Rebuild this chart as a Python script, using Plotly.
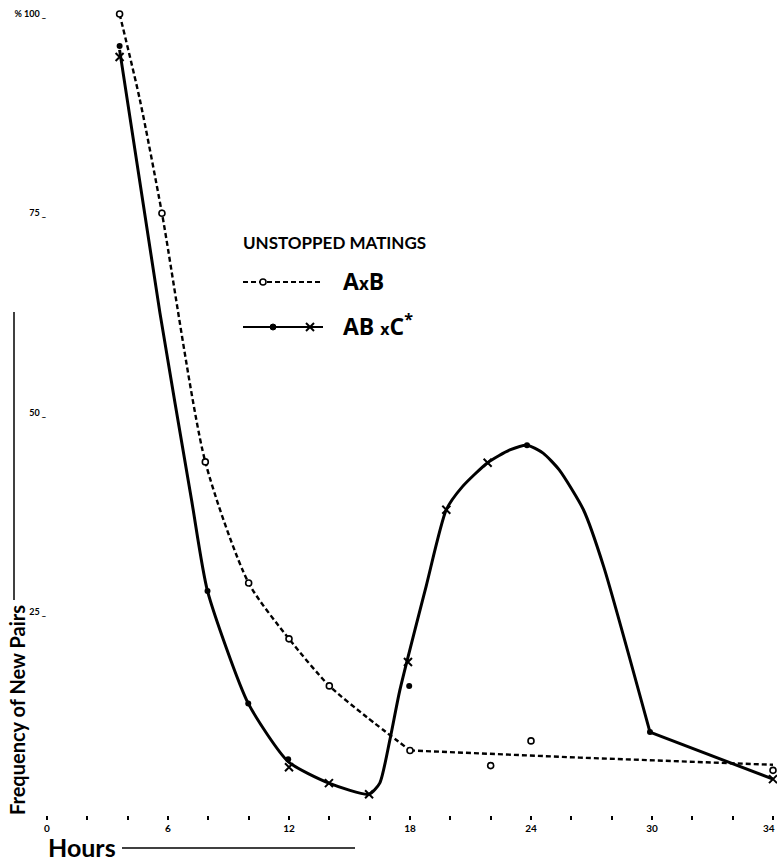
import plotly.graph_objects as go

# ---------------- data ----------------
# A x B : open circles (observations) and the hand-drawn dashed curve
axb_hours = [3.6, 5.7, 7.85, 10, 12, 14, 18, 22, 24, 36]
axb_freq = [100, 75, 43.8, 28.6, 21.6, 15.7, 7.6, 5.7, 8.8, 5.1]
axb_curve_hours = [3.6, 4.6, 5.7, 7.85, 10, 12, 14, 15.85, 18]
axb_curve_freq = [100, 89.3, 75, 43.8, 28.6, 21.6, 15.7, 11.8, 7.6]
axb_tail_hours = [18, 26.4, 36]
axb_tail_freq = [7.6, 6.7, 5.8]

# AB x C* : dots and crosses (observations) and the hand-drawn solid curve
abc_dot_hours = [3.6, 7.96, 9.98, 11.96, 17.96, 23.8, 29.9]
abc_dot_freq = [96.0, 27.6, 13.5, 6.5, 15.7, 45.9, 9.9]
abc_x_hours = [3.6, 12.0, 13.98, 15.97, 17.9, 19.8, 21.85, 36]
abc_x_freq = [94.6, 5.5, 3.5, 2.1, 18.7, 37.8, 43.7, 4.0]
abc_curve_hours = [3.6, 5.6, 7.17, 7.96, 9.98, 11.96, 13.98, 15.97,
                   16.5, 17.0, 17.5, 18.8, 19.8, 20.6, 21.85, 22.95, 23.8,
                   24.6, 25.4, 26.6, 27.6, 29.9]
abc_curve_freq = [95.5, 62.5, 39, 27.6, 13.5, 6.2, 3.5, 2.1,
                  3.5, 8.9, 15.2, 28.2, 37.8, 40.7, 43.7, 45.3, 45.9,
                  44.9, 42.8, 37.8, 30.7, 9.9]
abc_tail_hours = [29.9, 36]
abc_tail_freq = [9.9, 4.0]

x_tick_vals = list(range(0, 37, 2))
x_tick_text = ["0", "", "", "6", "", "", "12", "", "", "18", "", "",
               "24", "", "", "30", "", "", ""]
last_tick_value = 36
last_tick_text = "34"
y_tick_vals = [25, 50, 75, 100]
y_tick_text = ["25 _", "50 _", "75 _", "% 100 _"]

legend_title = "UNSTOPPED MATINGS"
name_axb = "A<span style='font-size:17px'>x</span>B"
name_abc = "AB <span style='font-size:16px'>x</span>C<sup>*</sup>"
x_title = "Hours"
y_title = "Frequency of New Pairs"

# ---------------- layout geometry ----------------
W, H = 777, 863
PL, PR, PT, PB = 47, 773, 14, 815
LATO = "Lato, Roboto, sans-serif"
OPEN = "Open Sans, Liberation Sans, sans-serif"


def px(x):
    return (x - PL) / (PR - PL)


def py(y):
    return (PB - y) / (PB - PT)


fig = go.Figure()

fig.add_trace(go.Scatter(
    x=axb_curve_hours, y=axb_curve_freq, mode="lines",
    line=dict(color="black", width=2.4, dash="5px,3px", shape="spline", smoothing=0.7),
    hoverinfo="skip", showlegend=False))
fig.add_trace(go.Scatter(
    x=axb_tail_hours, y=axb_tail_freq, mode="lines",
    line=dict(color="black", width=2.4, dash="5px,3px"),
    hoverinfo="skip", showlegend=False))
fig.add_trace(go.Scatter(
    x=abc_curve_hours, y=abc_curve_freq, mode="lines",
    line=dict(color="black", width=3, shape="spline", smoothing=0.6),
    hoverinfo="skip", showlegend=False))
fig.add_trace(go.Scatter(
    x=abc_tail_hours, y=abc_tail_freq, mode="lines",
    line=dict(color="black", width=3),
    hoverinfo="skip", showlegend=False))
fig.add_trace(go.Scatter(
    x=axb_hours, y=axb_freq, mode="markers", cliponaxis=False,
    marker=dict(symbol="circle", size=6, color="white",
                line=dict(color="black", width=1.6)),
    showlegend=False))
fig.add_trace(go.Scatter(
    x=abc_dot_hours, y=abc_dot_freq, mode="markers", cliponaxis=False,
    marker=dict(symbol="circle", size=6, color="black"),
    showlegend=False))
fig.add_trace(go.Scatter(
    x=abc_x_hours, y=abc_x_freq, mode="markers", cliponaxis=False,
    marker=dict(symbol="x-thin", size=8, color="black",
                line=dict(color="black", width=2)),
    showlegend=False))

shapes = []
annotations = []

# last x tick label, kept inside the page edge
annotations.append(dict(text=f"<b>{last_tick_text}</b>", x=last_tick_value, xref="x",
                        y=py(828), yref="paper", showarrow=False,
                        xanchor="right", yanchor="middle", xshift=4,
                        font=dict(family=LATO, size=10, color="black")))

# y-axis title with its trailing rule
annotations.append(dict(text=f"<b>{y_title}</b>", x=px(17), y=py(710),
                        xref="paper", yref="paper", textangle=-90,
                        showarrow=False, xanchor="center", yanchor="middle",
                        font=dict(family=LATO, size=20, color="black")))
shapes.append(dict(type="line", xref="paper", yref="paper",
                   x0=px(14), x1=px(14), y0=py(600), y1=py(312),
                   line=dict(color="black", width=1.5)))

# x-axis title with its trailing rule
annotations.append(dict(text=f"<b>{x_title}</b>", x=px(46), y=py(847),
                        xref="paper", yref="paper", showarrow=False,
                        xanchor="left", yanchor="middle",
                        font=dict(family=LATO, size=25, color="black")))
shapes.append(dict(type="line", xref="paper", yref="paper",
                   x0=px(122), x1=px(355), y0=py(848), y1=py(848),
                   line=dict(color="black", width=1.5)))

# custom legend
annotations.append(dict(text=f"<b>{legend_title}</b>", x=px(241), y=py(242),
                        xref="paper", yref="paper", showarrow=False,
                        xanchor="left", yanchor="middle",
                        font=dict(family=LATO, size=17, color="black")))
annotations.append(dict(text=f"<b>{name_axb}</b>", x=px(341), y=py(281),
                        xref="paper", yref="paper", showarrow=False,
                        xanchor="left", yanchor="middle",
                        font=dict(family=OPEN, size=23, color="black")))
annotations.append(dict(text=f"<b>{name_abc}</b>", x=px(341), y=py(325),
                        xref="paper", yref="paper", showarrow=False,
                        xanchor="left", yanchor="middle",
                        font=dict(family=OPEN, size=23, color="black")))
shapes.append(dict(type="line", xref="paper", yref="paper",
                   x0=px(243), x1=px(322), y0=py(282), y1=py(282),
                   line=dict(color="black", width=2, dash="5px,3px")))
shapes.append(dict(type="circle", xref="paper", yref="paper",
                   xsizemode="pixel", ysizemode="pixel",
                   xanchor=px(263), yanchor=py(282),
                   x0=-3, x1=3, y0=-3, y1=3,
                   fillcolor="white", line=dict(color="black", width=1.5)))
shapes.append(dict(type="line", xref="paper", yref="paper",
                   x0=px(243), x1=px(323), y0=py(327), y1=py(327),
                   line=dict(color="black", width=2.2)))
shapes.append(dict(type="circle", xref="paper", yref="paper",
                   xsizemode="pixel", ysizemode="pixel",
                   xanchor=px(273), yanchor=py(327),
                   x0=-3, x1=3, y0=-3, y1=3,
                   fillcolor="black", line=dict(color="black", width=1)))
for sgn in (1, -1):
    shapes.append(dict(type="line", xref="paper", yref="paper",
                       xsizemode="pixel", ysizemode="pixel",
                       xanchor=px(310), yanchor=py(327),
                       x0=-4, x1=4, y0=-4 * sgn, y1=4 * sgn,
                       line=dict(color="black", width=2)))

fig.update_layout(
    width=W, height=H,
    margin=dict(l=PL, r=W - PR, t=PT, b=H - PB, pad=0, autoexpand=False),
    paper_bgcolor="white", plot_bgcolor="white",
    showlegend=False,
    shapes=shapes, annotations=annotations,
    xaxis=dict(range=[0, 36], tickmode="array", tickvals=x_tick_vals,
               ticktext=x_tick_text, ticks="outside", ticklen=4, tickwidth=2,
               tickcolor="black", showline=False, showgrid=False, zeroline=False,
               automargin=False, ticklabeloverflow="allow",
               tickfont=dict(family=LATO, size=10, color="black", weight="bold")),
    yaxis=dict(range=[-0.5, 100], tickmode="array", tickvals=y_tick_vals,
               ticktext=y_tick_text, ticks="", showline=False, showgrid=False,
               zeroline=False, automargin=False, ticklabeloverflow="allow",
               tickfont=dict(family=LATO, size=9, color="black", weight="bold")),
)

fig.write_html(
    "out.html",
    config={"displayModeBar": False},
    post_script="document.body.style.margin='0px';document.body.style.overflow='hidden';",
)
